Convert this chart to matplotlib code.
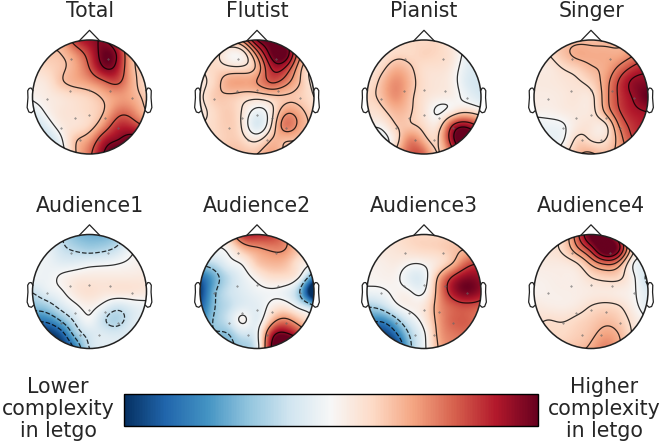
import numpy as np
import matplotlib
matplotlib.use("Agg")
import matplotlib.pyplot as plt
from matplotlib.cm import ScalarMappable
from matplotlib.colors import Normalize
from matplotlib.patches import Circle

# Values, rows from front (top) to back, columns left to right
names = ["Total", "Flutist", "Pianist", "Singer",
         "Audience1", "Audience2", "Audience3", "Audience4"]

total = [[.4, .4, .4, .7, .85, .9, .7, .4, .3],
         [.25, .28, .3, .45, .7, .98, .85, .35, .25],
         [.15, .2, .27, .38, .6, .88, .8, .36, .25],
         [.08, .12, .27, .35, .42, .55, .62, .38, .2],
         [.03, .08, .13, .18, .23, .33, .42, .38, .25],
         [-.12, .03, .12, .15, .2, .3, .52, .5, .3],
         [-.25, -.1, .08, .14, .22, .45, .72, .72, .55],
         [-.3, -.25, -.03, .27, .42, .75, .9, .98, .9],
         [-.3, -.3, -.1, .28, .55, .9, 1.05, 1, .9]]
flutist = [[.3, .3, .35, .5, .9, 1, .9, .6, .4],
           [.2, .2, .05, .08, .5, .95, 1, .5, .3],
           [.15, .2, .2, .2, .35, .75, .72, .35, .1],
           [.1, .22, .38, .4, .45, .6, .5, .3, .1],
           [.12, .25, .27, .22, .2, .25, .28, .25, .15],
           [.1, .2, .25, .13, -.05, .1, .4, .35, .2],
           [.15, .2, .25, .12, -.14, .15, .52, .4, .25],
           [.2, .2, .25, .2, .12, .3, .32, .3, .25],
           [.25, .25, .3, .3, .3, .4, .3, .3, .3]]
pianist = [[.15, .15, .15, .2, .2, .2, .1, .05, .05],
           [.1, .12, .2, .2, .22, .2, .12, -.05, -.1],
           [.12, .2, .35, .28, .17, .15, .08, -.1, -.15],
           [.15, .3, .46, .33, .17, .12, .06, -.12, -.18],
           [.2, .3, .45, .3, .15, .08, .05, -.05, -.15],
           [.15, .2, .33, .27, .13, -.02, .1, .2, .1],
           [.05, .05, .24, .27, .18, .15, .7, .85, .6],
           [-.2, -.12, .15, .48, .33, .25, .85, 1.1, .9],
           [-.1, -.1, .3, .6, .56, .25, .6, 1, .9]]
singer = [[.25, .25, .27, .3, .3, .3, .3, .3, .3],
          [.12, .17, .28, .37, .37, .37, .38, .48, .6],
          [.1, .1, .17, .23, .32, .38, .55, .72, .8],
          [.1, .1, .12, .15, .22, .42, .7, .88, .92],
          [.08, .08, .1, .12, .13, .42, .7, .86, 1],
          [.05, .05, .08, .1, .12, .37, .66, .8, .85],
          [-.08, -.05, -.02, .1, .12, .14, .52, .73, .8],
          [-.1, -.08, -.02, .2, .16, .17, .42, .67, .7],
          [-.1, -.08, .1, .3, .36, .3, .4, .5, .55]]
audience1 = [[-.05, -.1, -.25, -.42, -.47, -.47, -.38, -.15, -.1],
             [-.02, -.05, -.2, -.28, -.33, -.3, -.2, -.03, 0],
             [-.05, -.05, -.1, -.1, -.06, -.04, -.01, .03, .05],
             [-.05, -.05, .02, .08, .1, .1, .1, .1, .1],
             [-.23, -.1, -.02, .1, .15, .12, .12, .12, .1],
             [-.42, -.35, -.17, -.03, .05, -.05, -.17, -.1, -.05],
             [-.7, -.68, -.47, -.2, -.03, -.22, -.3, -.15, -.05],
             [-1, -1, -.85, -.42, -.18, -.13, -.15, -.1, -.05],
             [-1, -1, -1, -.7, -.25, -.12, -.1, -.1, -.05]]
audience2 = [[.1, .1, .3, .7, .75, .7, .5, .2, .1],
             [-.05, -.02, .05, .3, .42, .48, .45, .25, .05],
             [-.35, -.25, -.07, .03, .25, .33, .3, .12, -.05],
             [-.8, -.5, -.25, -.08, .05, .15, .15, -.02, -.7],
             [-.95, -.45, -.22, -.12, -.05, -.02, -.07, -.4, -1.3],
             [-.85, -.42, -.25, -.12, -.1, .05, .1, -.1, -.4],
             [-.7, -.38, -.2, .03, -.1, .3, .5, .3, 0],
             [-.55, -.42, -.4, -.2, -.05, .75, .95, .7, .2],
             [-.6, -.5, -.45, -.35, -.1, .9, 1.3, 1.1, .3]]
audience3 = [[.1, .1, .15, .2, .2, .2, .2, .15, .1],
             [.08, .1, .13, .17, .2, .22, .28, .33, .35],
             [.05, .06, .08, .02, .03, .14, .33, .6, .68],
             [.03, .04, .03, -.1, -.08, .35, .72, .9, .85],
             [-.05, -.03, .03, .01, -.01, .42, .8, .95, .85],
             [-.32, -.25, -.05, .05, .12, .42, .6, .65, .6],
             [-.6, -.65, -.42, -.13, .08, .4, .58, .6, .5],
             [-.9, -.95, -.75, -.33, -.03, .37, .52, .55, .5],
             [-1, -1, -1, -.42, -.05, .33, .48, .5, .5]]
audience4 = [[.15, .15, .2, .6, 1, .95, .6, .1, 0],
             [.12, .14, .2, .45, .75, 1.1, .85, .2, -.02],
             [.08, .09, .1, .17, .38, .55, .42, .0, -.05],
             [.05, .06, .07, .08, .17, .22, .2, .02, -.2],
             [.04, .05, .06, .07, .09, .1, .08, .02, -.13],
             [.1, .08, .07, .1, .17, .2, .17, .05, -.1],
             [.14, .17, .16, .2, .25, .3, .25, .12, 0],
             [.2, .2, .2, .24, .3, .4, .33, .15, .05],
             [.2, .2, .25, .3, .38, .5, .37, .2, .1]]
maps = [total, flutist, pianist, singer, audience1, audience2, audience3, audience4]

# Contour levels of each map
levels = [[0, .3, .6, .9],
          [0, .15, .3, .45, .6, .75, .9],
          [0, .25, .7, .92],
          [0, .17, .34, .5, .67, .84],
          [-.75, -.5, -.25, 0],
          [-.4, 0, .45, .9],
          [-.7, -.35, 0, .33, .7],
          [-.17, 0, .17, .34, .5, .67, .84]]

# Sensor dots, head radius = 1
sensor_x = [-.33, .33, -.35, 0, .36, -.75, .75, -.26, 0, .27, -.5, .5, -.16, .17]
sensor_y = [.67, .67, .10, .12, .10, -.03, -.02, -.37, -.32, -.36, -.55, -.55, -.76, -.76]

ear_x = [.994, 1.02, 1.036, 1.06, 1.084, 1.08, 1.094, 1.064, 1.02, .978]
ear_y = [.111, .155, .157, .149, .111, -.011, -.186, -.263, -.277, -.24]

W, H = 661, 446
centers_x = [89.5, 257, 424, 591]
centers_y = [97, 291.5]
R = 57.0
title_y = [11, 206]


def cubic_surface(values, xi, yi):
    # plain r^3 radial basis with a linear term, goes through every grid value
    values = np.asarray(values, dtype=float)
    n = values.shape[0]
    gx, gy = np.meshgrid(np.linspace(-1, 1, n), np.linspace(1, -1, n))
    px, py, v = gx.ravel(), gy.ravel(), values.ravel()
    d = np.hypot(px[:, None] - px[None, :], py[:, None] - py[None, :]) ** 3
    p = np.column_stack([np.ones_like(px), px, py])
    a = np.block([[d, p], [p.T, np.zeros((3, 3))]])
    w = np.linalg.solve(a, np.r_[v, np.zeros(3)])
    r = np.hypot(xi.ravel()[:, None] - px, yi.ravel()[:, None] - py) ** 3
    z = r @ w[:-3] + w[-3] + w[-2] * xi.ravel() + w[-1] * yi.ravel()
    return z.reshape(xi.shape)


def main():
    fig = plt.figure(figsize=(W / 100, H / 100), dpi=100)
    text_color = "#262626"
    xi, yi = np.meshgrid(np.linspace(-1, 1, 201), np.linspace(-1, 1, 201))

    for i, (name, values, lev) in enumerate(zip(names, maps, levels)):
        cx = centers_x[i % 4]
        cy = centers_y[i // 4]
        size = R * 1.3
        ax = fig.add_axes([(cx - size) / W, 1 - (cy + size) / H, 2 * size / W, 2 * size / H])
        ax.set_xlim(-1.3, 1.3)
        ax.set_ylim(-1.3, 1.3)
        ax.axis("off")

        z = cubic_surface(values, xi, yi)
        clip = Circle((0, 0), 1, transform=ax.transData)
        im = ax.imshow(z, origin="lower", extent=(-1, 1, -1, 1), cmap="RdBu_r",
                       vmin=-1, vmax=1, interpolation="bilinear")
        im.set_clip_path(clip)
        cs = ax.contour(xi, yi, z, levels=lev, colors="k", linewidths=0.9, alpha=.8)
        cs.set_clip_path(clip)

        ax.plot(sensor_x, sensor_y, ls="none", marker=".", ms=.8, color="#666666")

        # head outline, nose, ears
        ax.add_patch(Circle((0, 0), 1, fc="none", ec="#222222", lw=1.1))
        ax.plot([-.18, 0, .18], [.985, 1.17, .985], color="#222222", lw=.9)
        ax.plot(ear_x, ear_y, color="#222222", lw=.9)
        ax.plot(-np.array(ear_x), ear_y, color="#222222", lw=.9)

        fig.text(cx / W, 1 - title_y[i // 4] / H, name, ha="center", va="center",
                 fontsize=14.8, color=text_color)

    cax = fig.add_axes([124 / W, 1 - 426 / H, 414 / W, 32 / H])
    cbar = fig.colorbar(ScalarMappable(Normalize(-1, 1), "RdBu_r"), cax=cax,
                        orientation="horizontal")
    cbar.set_ticks([])
    cbar.outline.set_linewidth(1)

    fig.text(58 / W, 1 - 409 / H, "Lower\ncomplexity\nin letgo", ha="center", va="center",
             fontsize=14.8, color=text_color, linespacing=1.15)
    fig.text(604 / W, 1 - 409 / H, "Higher\ncomplexity\nin letgo", ha="center", va="center",
             fontsize=14.8, color=text_color, linespacing=1.15)

    fig.savefig("out.png", dpi=100)


if __name__ == "__main__":
    main()
